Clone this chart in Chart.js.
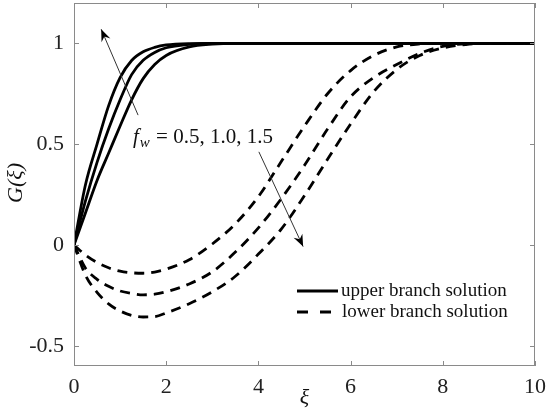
<!DOCTYPE html>
<html>
<head>
<meta charset="utf-8">
<script src="https://cdn.jsdelivr.net/npm/chart.js@4.4.1/dist/chart.umd.min.js"></script>
<style>
  html, body { margin: 0; padding: 0; background: #fff; }
  #wrap { width: 550px; height: 417px; }
</style>
</head>
<body>
<div id="wrap"><canvas id="myChart" width="550" height="417"></canvas></div>
<script>
// xi grid shared by all curves
var xi = [0, 0.25, 0.5, 0.75, 1, 1.25, 1.5, 1.75, 2, 2.5, 3, 3.5, 4, 4.5, 5, 5.5, 6, 6.5, 7, 7.5, 8, 8.5, 9, 9.5, 10];

// upper branch, f_w = 0.5, 1.0, 1.5
var upper05 = [0, 0.16, 0.32, 0.455, 0.59, 0.72, 0.825, 0.895, 0.94, 0.982, 0.996, 1, 1, 1, 1, 1, 1, 1, 1, 1, 1, 1, 1, 1, 1];
var upper10 = [0, 0.22, 0.41, 0.575, 0.72, 0.845, 0.916, 0.955, 0.978, 0.995, 1, 1, 1, 1, 1, 1, 1, 1, 1, 1, 1, 1, 1, 1, 1];
var upper15 = [0, 0.30, 0.50, 0.69, 0.83, 0.915, 0.958, 0.98, 0.992, 0.999, 1, 1, 1, 1, 1, 1, 1, 1, 1, 1, 1, 1, 1, 1, 1];

// lower branch, f_w = 0.5, 1.0, 1.5
var lower05 = [0, -0.05, -0.087, -0.113, -0.13, -0.138, -0.14, -0.134, -0.12, -0.073, 0.005, 0.105, 0.24, 0.415, 0.59, 0.75, 0.865, 0.94, 0.982, 0.997, 1, 1, 1, 1, 1];
var lower10 = [0, -0.115, -0.17, -0.205, -0.228, -0.24, -0.247, -0.244, -0.232, -0.193, -0.133, -0.035, 0.085, 0.231, 0.395, 0.575, 0.735, 0.83, 0.895, 0.95, 0.985, 0.998, 1, 1, 1];
var lower15 = [0, -0.15, -0.235, -0.292, -0.327, -0.349, -0.357, -0.355, -0.337, -0.291, -0.232, -0.155, -0.045, 0.08, 0.245, 0.425, 0.6, 0.76, 0.87, 0.94, 0.977, 0.994, 1, 1, 1];

var xTicks = [0, 2, 4, 6, 8, 10];
var yTicks = [-0.5, 0, 0.5, 1];
var legendLabels = ['upper branch solution', 'lower branch solution'];

function pts(ys) {
    return xi.map(function (x, i) { return { x: x, y: ys[i] }; });
}

function line(ys, dashed) {
    return {
        data: pts(ys),
        borderColor: '#000',
        borderWidth: 2.8,
        borderDash: dashed ? [10, 7] : [],
        pointRadius: 0,
        fill: false,
        cubicInterpolationMode: 'monotone'
    };
}

var serif = '"Liberation Serif", "DejaVu Serif", serif';

// inward ticks, box, titles, arrows and legend
var decor = {
    id: 'decor',
    afterDraw: function (chart) {
        var c = chart.ctx, a = chart.chartArea;
        var xs = chart.scales.x, ys = chart.scales.y;
        c.save();
        c.strokeStyle = '#8a8a8a';
        c.lineWidth = 1;
        c.strokeRect(a.left + 0.5, a.top + 0.5, a.right - a.left - 1, a.bottom - a.top - 1);
        c.beginPath();
        xTicks.forEach(function (v) {
            var px = Math.round(xs.getPixelForValue(v)) + 0.5;
            c.moveTo(px, a.bottom); c.lineTo(px, a.bottom - 5);
            c.moveTo(px, a.top); c.lineTo(px, a.top + 5);
        });
        yTicks.forEach(function (v) {
            var py = Math.round(ys.getPixelForValue(v)) + 0.5;
            c.moveTo(a.left, py); c.lineTo(a.left + 5, py);
            c.moveTo(a.right, py); c.lineTo(a.right - 5, py);
        });
        c.stroke();

        // axis titles
        c.fillStyle = '#111';
        c.font = 'italic 22px ' + serif;
        c.textAlign = 'center';
        c.textBaseline = 'middle';
        c.fillText('\u03BE', (a.left + a.right) / 2, 398);
        c.save();
        c.translate(16, 183);
        c.rotate(-Math.PI / 2);
        c.fillText('G(\u03BE)', 0, 0);
        c.restore();

        // f_w label
        var tx = xs.getPixelForValue(1.28), ty = ys.getPixelForValue(0.505);
        c.textAlign = 'left';
        c.textBaseline = 'alphabetic';
        c.font = 'italic 21px ' + serif;
        c.fillText('f', tx, ty);
        var fw = c.measureText('f').width;
        c.font = 'italic 15px ' + serif;
        c.fillText('w', tx + fw + 1, ty + 4);
        var ww = c.measureText('w').width;
        c.font = '21px ' + serif;
        c.fillText(' = 0.5, 1.0, 1.5', tx + fw + ww + 2, ty);

        // arrows
        function arrow(x0, y0, x1, y1) {
            var p0x = xs.getPixelForValue(x0), p0y = ys.getPixelForValue(y0);
            var p1x = xs.getPixelForValue(x1), p1y = ys.getPixelForValue(y1);
            var ang = Math.atan2(p1y - p0y, p1x - p0x);
            c.strokeStyle = '#333';
            c.lineWidth = 1;
            c.beginPath();
            c.moveTo(p0x, p0y); c.lineTo(p1x, p1y);
            c.stroke();
            c.fillStyle = '#000';
            c.beginPath();
            c.moveTo(p1x, p1y);
            c.lineTo(p1x - 13 * Math.cos(ang - 0.38), p1y - 13 * Math.sin(ang - 0.38));
            c.lineTo(p1x - 8 * Math.cos(ang), p1y - 8 * Math.sin(ang));
            c.lineTo(p1x - 13 * Math.cos(ang + 0.38), p1y - 13 * Math.sin(ang + 0.38));
            c.closePath();
            c.fill();
        }
        arrow(1.39, 0.644, 0.59, 1.07);
        arrow(4.01, 0.462, 4.97, -0.008);

        // legend
        c.strokeStyle = '#000';
        c.lineWidth = 2.8;
        c.beginPath();
        c.moveTo(297, 291); c.lineTo(338, 291);
        c.stroke();
        c.setLineDash([11, 12]);
        c.beginPath();
        c.moveTo(297, 312); c.lineTo(338, 312);
        c.stroke();
        c.setLineDash([]);
        c.fillStyle = '#111';
        c.font = '19px ' + serif;
        c.textBaseline = 'middle';
        c.fillText(legendLabels[0], 341, 291);
        c.fillText(legendLabels[1], 342, 312);
        c.restore();
    }
};

var ctx = document.getElementById('myChart');
var myChart = new Chart(ctx, {
    type: 'line',
    data: {
        datasets: [
            line(upper05, false), line(upper10, false), line(upper15, false),
            line(lower05, true), line(lower10, true), line(lower15, true)
        ]
    },
    options: {
        responsive: false,
        animation: false,
        layout: { padding: { top: 3, right: 15, left: 0, bottom: 0 } },
        plugins: { legend: { display: false }, tooltip: { enabled: false } },
        scales: {
            x: {
                type: 'linear', min: 0, max: 10,
                afterBuildTicks: function (s) { s.ticks = xTicks.map(function (v) { return { value: v }; }); },
                afterFit: function (s) { s.height = 51; s.paddingLeft = 0; s.paddingRight = 0; },
                grid: { display: false, drawTicks: false },
                border: { display: false },
                ticks: { color: '#222', font: { family: serif, size: 22 }, padding: 8, maxRotation: 0 }
            },
            y: {
                min: -0.6, max: 1.2,
                afterBuildTicks: function (s) { s.ticks = yTicks.map(function (v) { return { value: v }; }); },
                afterFit: function (s) { s.width = 74; s.paddingTop = 0; s.paddingBottom = 0; },
                grid: { display: false, drawTicks: false },
                border: { display: false },
                ticks: { color: '#222', font: { family: serif, size: 22 }, padding: 10,
                    callback: function (v) { return String(v); } }
            }
        }
    },
    plugins: [decor]
});
</script>
</body>
</html>
